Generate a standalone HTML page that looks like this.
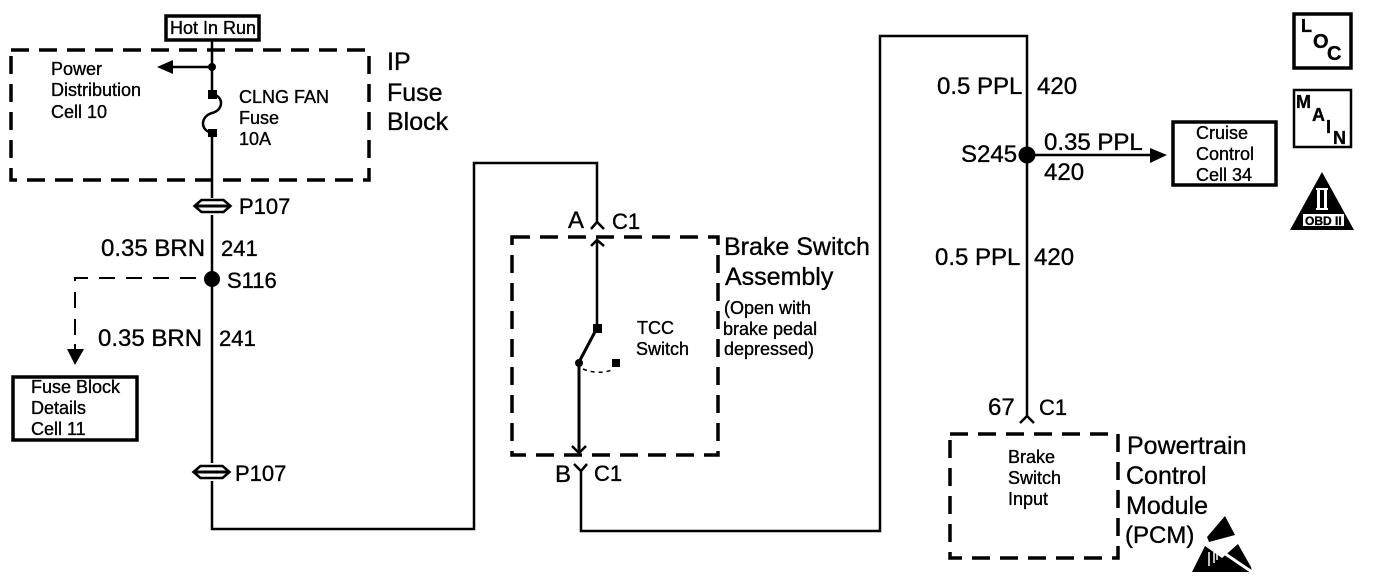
<!DOCTYPE html>
<html><head><meta charset="utf-8"><style>
html,body{margin:0;padding:0;background:#fff;width:1376px;height:580px;overflow:hidden}
svg{display:block}
text{font-family:"Liberation Sans",sans-serif;fill:#000;stroke:#000;stroke-width:.35}
.l{font-size:24px}.m{font-size:25px}.n{font-size:22px}.s{font-size:18px}
.w{fill:none;stroke:#000;stroke-width:2.5}
.d{fill:none;stroke:#000;stroke-width:3.5;stroke-dasharray:18 10}
.b{fill:#fff;stroke:#000;stroke-width:3.5}
</style></head><body>
<svg width="1376" height="580" viewBox="0 0 1376 580" xmlns="http://www.w3.org/2000/svg">
<defs><g id="conn">
<path fill="none" stroke="#000" stroke-width="2.5" d="M-18 0L-11 -6H11L18 0L11 6H-11Z"/>
<rect x="-18" y="-1.5" width="36" height="3"/>
</g></defs>
<!-- dashed boxes -->
<rect class="d" x="11" y="50" width="358" height="130"/>
<rect class="d" x="512" y="237" width="206" height="218"/>
<rect class="d" x="950" y="434" width="168" height="124"/>
<!-- wires -->
<path class="w" d="M212 41V94M212 132V198M212 215V463M212 481V529H474V163H597V222"/>
<path class="w" d="M597 240V328"/>
<path fill="none" stroke="#000" stroke-width="3" d="M597 328L579 362V452"/>
<path class="w" d="M581 470V531H880V36H1027V416" />
<path class="w" d="M1027 155H1152"/>
<path class="w" d="M212 67H170"/>
<path d="M157 67L173 60V74Z"/>
<circle cx="212" cy="67" r="4"/>
<!-- fuse -->
<rect x="208" y="90" width="9" height="9"/><rect x="208" y="129" width="9" height="8"/>
<path class="w" d="M212 94C224 96 224 110 212 113C201 116 199 130 212 133"/>
<!-- P107 connectors -->
<use href="#conn" x="212.5" y="206"/>
<use href="#conn" x="211.5" y="472"/>
<!-- splices -->
<circle cx="212" cy="279" r="8"/>
<circle cx="1027" cy="155" r="8.5"/>
<!-- branch dashed -->
<path fill="none" stroke="#000" stroke-width="2" stroke-dasharray="16 11" d="M196 278H75V340"/>
<path d="M67 349H84L75 365Z"/><rect x="74" y="344" width="2" height="6"/>
<path d="M1150 148L1167 155L1150 163Z"/>
<!-- chevrons -->
<path class="w" d="M591 229L597 222L604 229M591 246L597 240L604 246"/>
<path class="w" d="M572 446L579 453L586 446M574 464L581 471L587 464"/>
<path class="w" d="M1020 423L1027 416L1034 423"/>
<!-- switch -->
<rect x="593" y="324" width="9" height="9"/><circle cx="579" cy="363" r="4"/><rect x="612" y="359" width="8" height="8"/>
<path fill="none" stroke="#000" stroke-width="1.5" stroke-dasharray="4 4" d="M583 369Q598 375 612 370"/>
<!-- solid boxes -->
<rect class="b" x="166" y="16" width="93" height="24"/>
<rect class="b" x="13" y="377" width="124" height="63"/>
<rect class="b" x="1173" y="122" width="103" height="63"/>
<rect class="b" x="1294" y="14" width="57" height="54"/>
<rect x="1294" y="90" width="57" height="57" fill="#fff" stroke="#000" stroke-width="2.5"/>
<!-- small text -->
<g class="s">
<text x="170" y="34">Hot In Run</text>
<text x="51" y="75">Power</text><text x="51" y="96">Distribution</text><text x="51" y="118">Cell 10</text>
<text x="239" y="103">CLNG FAN</text><text x="239" y="124">Fuse</text><text x="239" y="145">10A</text>
<text x="31" y="393">Fuse Block</text><text x="31" y="414">Details</text><text x="31" y="435">Cell 11</text>
<text x="637" y="334">TCC</text><text x="636" y="355">Switch</text>
<text x="724" y="314">(Open with</text><text x="723" y="335">brake pedal</text><text x="724" y="355">depressed)</text>
<text x="1196" y="139">Cruise</text><text x="1196" y="160">Control</text><text x="1196" y="181">Cell 34</text>
<text x="1008" y="463">Brake</text><text x="1008" y="484">Switch</text><text x="1008" y="505">Input</text>
</g>
<!-- large text -->
<g class="m">
<text x="387" y="70">IP</text><text x="387" y="101">Fuse</text><text x="387" y="130">Block</text>
<text x="724" y="255">Brake Switch</text><text x="725" y="285">Assembly</text>
<text x="1127" y="454">Powertrain</text><text x="1126" y="484">Control</text><text x="1126" y="514">Module</text>
</g>
<g class="n">
<text x="239" y="214">P107</text><text x="235" y="481">P107</text>
<text x="221" y="256">241</text>
<text x="227" y="288">S116</text>
<text x="219" y="346">241</text>
<text x="612" y="229">C1</text>
<text x="594" y="481">C1</text>
<text x="1039" y="415">C1</text>
</g>
<g class="l">
<text x="101" y="256">0.35 BRN</text>
<text x="98" y="346">0.35 BRN</text>
<text x="568" y="228">A</text>
<text x="555" y="482">B</text>
<text x="937" y="94">0.5 PPL</text><text x="1037" y="94">420</text>
<text x="961" y="162">S245</text>
<text x="1044" y="150">0.35 PPL</text><text x="1044" y="180">420</text>
<text x="935" y="265">0.5 PPL</text><text x="1034" y="265">420</text>
<text x="988" y="415">67</text>
<text x="1125" y="543">(PCM)</text>
</g>
<!-- icon letters -->
<text x="1301" y="32" style="font-size:18px;font-weight:bold">L</text><text x="1313" y="48" style="font-size:20px;font-weight:bold">O</text><text x="1327" y="60" style="font-size:20px;font-weight:bold">C</text>
<text x="1296" y="108" style="font-size:18px;font-weight:bold">M</text><text x="1312" y="121" style="font-size:18px;font-weight:bold">A</text><text x="1326" y="133" style="font-size:18px;font-weight:bold">I</text><text x="1333" y="144" style="font-size:18px;font-weight:bold">N</text>
<!-- OBD II -->
<path d="M1322 172L1354 230H1290Z"/>
<rect x="1316" y="188" width="12" height="2" fill="#fff"/><rect x="1317" y="190" width="3" height="18" fill="#fff"/><rect x="1324" y="190" width="3" height="18" fill="#fff"/><rect x="1316" y="208" width="12" height="2" fill="#fff"/>
<rect x="1303" y="214" width="41" height="12" fill="#fff"/>
<text x="1305" y="225" style="font-size:12px;font-weight:bold">OBD II</text>
<!-- ESD -->
<path d="M1225 516L1235 535L1209 542L1207 537Z"/>
<path d="M1192 572L1205 546L1222 558L1238 544L1251 567L1252 572Z"/>
<path d="M1224 553L1252 572" stroke="#fff" stroke-width="3"/>
<path d="M1209 552V566M1214 552V563M1217 553V560" stroke="#fff" stroke-width="1.5"/>
</svg>
</body></html>
